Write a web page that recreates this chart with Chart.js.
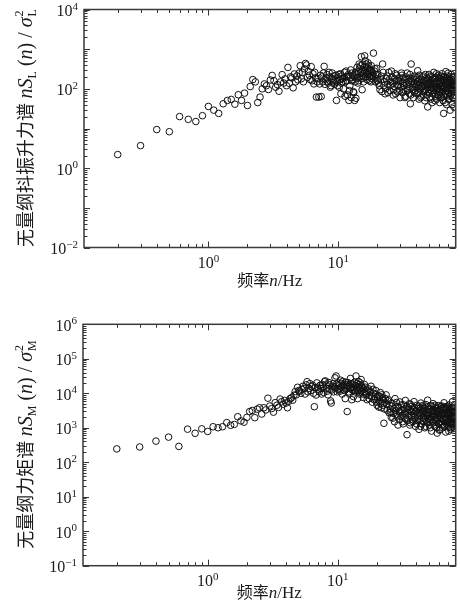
<!DOCTYPE html>
<html>
<head>
<meta charset="utf-8">
<script src="https://cdn.jsdelivr.net/npm/chart.js@4/dist/chart.umd.min.js"></script>
<style>
  html, body { margin: 0; padding: 0; background: #fff; }
  canvas { display: block; }
</style>
</head>
<body>
<canvas id="chartL" width="460" height="300"></canvas>
<canvas id="chartM" width="460" height="310"></canvas>
<script>
// [频率 n (Hz), 无量纲谱值]
const liftSpectrum = [
  [0.2, 2.2], [0.3, 3.7], [0.4, 9.4], [0.5, 8.3], [0.6, 20], [0.7, 17], [0.8, 15], [0.9, 21], [1.0, 36], [1.1, 29],
  [1.2, 24], [1.3, 42], [1.4, 51], [1.5, 54], [1.6, 41], [1.7, 71], [1.8, 51], [1.9, 78], [2.0, 38], [2.1, 114],
  [2.2, 171], [2.3, 150], [2.4, 45], [2.5, 62], [2.6, 100], [2.7, 133], [2.8, 120], [2.9, 96], [3.0, 167], [3.1, 218],
  [3.2, 161], [3.3, 110], [3.4, 128], [3.5, 87], [3.6, 150], [3.7, 228], [3.8, 140], [3.9, 178], [4.0, 120], [4.1, 347],
  [4.2, 138], [4.3, 200], [4.4, 188], [4.5, 106], [4.6, 237], [4.7, 150], [4.8, 210], [4.9, 168], [5.0, 250], [5.1, 383],
  [5.2, 180], [5.3, 260], [5.4, 150], [5.5, 320], [5.6, 437], [5.7, 400], [5.8, 195], [5.9, 276], [6.0, 220], [6.1, 170],
  [6.2, 362], [6.3, 160], [6.4, 240], [6.5, 133], [6.6, 260], [6.7, 190], [6.8, 62], [6.9, 150], [7.0, 180], [7.1, 62],
  [7.2, 133], [7.3, 220], [7.4, 64], [7.5, 200], [7.6, 150], [7.7, 250], [7.8, 368], [7.9, 130], [8.0, 170], [8.2, 230],
  [8.4, 140], [8.6, 200], [8.8, 120], [9.0, 250], [9.2, 170], [9.4, 130], [9.6, 220], [9.7, 51], [9.8, 150], [10.0, 190],
  [10.2, 110], [10.4, 240], [10.6, 140], [10.8, 180], [11.0, 100], [11.2, 260], [11.4, 150], [11.6, 200], [11.8, 70], [12.0, 230],
  [12.1, 51], [12.3, 120], [12.5, 300], [12.7, 160], [13.0, 220], [13.2, 80], [13.4, 51], [13.6, 260], [13.8, 180], [14.0, 350],
  [14.2, 140], [14.5, 420], [14.8, 250], [15.1, 645], [15.3, 95], [15.5, 300], [15.8, 200], [16.0, 680], [16.2, 510], [16.5, 350],
  [16.8, 230], [17.0, 450], [17.3, 160], [17.6, 300], [18.0, 383], [18.3, 220], [18.7, 795], [19.0, 280], [19.4, 150], [19.8, 330],
  [20.2, 180], [20.5, 140], [21, 95], [21.5, 210], [22, 422], [22.5, 120], [23, 75], [23.5, 180], [24, 130], [24.5, 260],
  [25, 90], [25.5, 150], [26, 200], [26.5, 70], [27, 115], [27.5, 240], [28, 160], [28.5, 85], [29, 130], [29.5, 190],
  [30, 60], [30.5, 110], [31, 220], [31.5, 140], [32, 95], [32.5, 170], [33, 65], [33.5, 125], [34, 250], [34.5, 100],
  [35, 150], [35.5, 75], [36, 42], [36.5, 422], [37, 180], [37.5, 110], [38, 60], [38.5, 140], [39, 210], [39.5, 90],
  [40, 130], [40.5, 75], [41, 286], [41.5, 120], [42, 55], [42.5, 170], [43, 100], [43.5, 140], [44, 65], [44.5, 200],
  [45, 115], [45.5, 85], [46, 160], [46.5, 50], [47, 230], [47.5, 95], [48, 130], [48.5, 70], [49, 35], [49.5, 180],
  [50, 110], [50.5, 150], [51, 60], [51.5, 210], [52, 90], [52.5, 125], [53, 45], [53.5, 175], [54, 105], [54.5, 260],
  [55, 80], [55.5, 140], [56, 65], [56.5, 190], [57, 115], [57.5, 55], [58, 160], [58.5, 95], [59, 220], [59.5, 70],
  [60, 135], [60.5, 45], [61, 180], [61.5, 100], [62, 150], [62.5, 60], [63, 240], [63.5, 85], [64, 125], [64.5, 50],
  [65, 24], [65.5, 170], [66, 110], [66.5, 200], [67, 75], [67.5, 271], [68, 130], [68.5, 40], [69, 160], [69.5, 90],
  [70, 210], [70.5, 55], [71, 140], [71.5, 100], [72, 185], [72.5, 65], [73, 29], [73.5, 150], [74, 115], [74.5, 230],
  [75, 80], [75.5, 40], [76, 170], [76.5, 95], [77, 130], [77.5, 60], [78, 35], [78.5, 200], [79, 110], [79.5, 150]
];

// 高频段密集点（与上表交错的频率）
const liftSpectrumDense = [
  [8.1, 190], [8.3, 150], [8.5, 260], [8.7, 110], [8.9, 180], [9.1, 140], [9.3, 210], [9.5, 160], [9.9, 120], [10.1, 230],
  [10.3, 170], [10.5, 75], [10.7, 210], [10.9, 150], [11.1, 190], [11.3, 65], [11.5, 280], [11.7, 160], [11.9, 210], [12.2, 90],
  [12.4, 190], [12.6, 60], [12.8, 250], [12.9, 170], [13.1, 85], [13.3, 200], [13.5, 150], [13.7, 58], [13.9, 230], [14.1, 190],
  [14.3, 270], [14.4, 160], [14.6, 320], [14.7, 200], [14.9, 380], [15.0, 260], [15.2, 180], [15.4, 420], [15.6, 240], [15.7, 150],
  [15.9, 350], [16.1, 280], [16.3, 200], [16.4, 420], [16.6, 260], [16.7, 170], [16.9, 330], [17.1, 240], [17.2, 380], [17.4, 200],
  [17.5, 270], [17.8, 210], [17.9, 150], [18.1, 290], [18.2, 180], [18.5, 250], [18.9, 200], [19.2, 320], [19.6, 230], [20.0, 160],
  [20.25, 230], [20.75, 120], [21.25, 170], [21.75, 85], [22.25, 260], [22.75, 150], [23.25, 100], [23.75, 210], [24.25, 80], [24.75, 170],
  [25.25, 120], [25.75, 280], [26.25, 140], [26.75, 95], [27.25, 180], [27.75, 75], [28.25, 220], [28.75, 120], [29.25, 160], [29.75, 90],
  [30.25, 150], [30.75, 250], [31.25, 80], [31.75, 190], [32.25, 120], [32.75, 60], [33.25, 200], [33.75, 140], [34.25, 90], [34.75, 180],
  [35.25, 115], [35.75, 230], [36.25, 70], [36.75, 150], [37.25, 95], [37.75, 200], [38.25, 130], [38.75, 80], [39.25, 170], [39.75, 115],
  [40.25, 190], [40.75, 100], [41.25, 150], [41.75, 80], [42.25, 220], [42.75, 125], [43.25, 60], [43.75, 175], [44.25, 110], [44.75, 145],
  [45.25, 70], [45.75, 210], [46.25, 120], [46.75, 90], [47.25, 150], [47.75, 60], [48.25, 190], [48.75, 105], [49.25, 140], [49.75, 80],
  [50.25, 230], [50.75, 95], [51.25, 130], [51.75, 55], [52.25, 165], [52.75, 110], [53.25, 200], [53.75, 75], [54.25, 140], [54.75, 100],
  [55.25, 180], [55.75, 50], [56.25, 125], [56.75, 90], [57.25, 240], [57.75, 110], [58.25, 70], [58.75, 150], [59.25, 100], [59.75, 190],
  [60.25, 85], [60.75, 130], [61.25, 60], [61.75, 210], [62.25, 115], [62.75, 170], [63.25, 75], [63.75, 140], [64.25, 95], [64.75, 200],
  [65.25, 65], [65.75, 120], [66.25, 160], [66.75, 45], [67.25, 135], [67.75, 90], [68.25, 180], [68.75, 110], [69.25, 70], [69.75, 145],
  [70.25, 100], [70.75, 250], [71.25, 80], [71.75, 125], [72.25, 55], [72.75, 170], [73.25, 105], [73.75, 70], [74.25, 150], [74.75, 95],
  [75.25, 200], [75.75, 120], [76.25, 60], [76.75, 160], [77.25, 85], [77.75, 190], [78.25, 110], [78.75, 70], [79.25, 140], [79.75, 95],
  [80.25, 120]
];

const momentSpectrum = [
  [0.2, 244], [0.3, 277], [0.4, 410], [0.5, 535], [0.6, 288], [0.7, 910], [0.8, 690], [0.9, 930], [1.0, 780], [1.1, 1070],
  [1.2, 1000], [1.3, 1070], [1.4, 1410], [1.5, 1180], [1.6, 1250], [1.7, 2090], [1.8, 1580], [1.9, 1450], [2.0, 2000], [2.1, 2950],
  [2.2, 3170], [2.3, 1960], [2.4, 3460], [2.5, 3800], [2.6, 2500], [2.7, 3800], [2.8, 3300], [2.9, 7200], [3.0, 4270], [3.1, 3600],
  [3.2, 2830], [3.3, 5350], [3.4, 4500], [3.5, 3900], [3.6, 6800], [3.7, 5700], [3.8, 4800], [3.9, 6200], [4.0, 5200], [4.1, 3800],
  [4.2, 5900], [4.3, 7000], [4.4, 7400], [4.5, 6300], [4.6, 8800], [4.7, 11200], [4.8, 9000], [4.9, 14900], [5.0, 12000], [5.2, 10000],
  [5.4, 16000], [5.5, 13800], [5.6, 9500], [5.8, 21700], [6.0, 14000], [6.2, 12000], [6.4, 17000], [6.6, 4080], [6.8, 8900], [7.0, 15000],
  [7.2, 11000], [7.4, 13800], [7.6, 18000], [7.8, 10500], [7.9, 21700], [8.0, 22900], [8.2, 14000], [8.4, 9000], [8.6, 17500], [8.9, 5200],
  [9.0, 12500], [9.2, 19000], [9.4, 15000], [9.7, 31700], [9.9, 11000], [10.1, 20000], [10.3, 14000], [10.5, 24000], [10.8, 9500], [11.0, 17000],
  [11.3, 12000], [11.5, 21000], [11.8, 2950], [12.0, 15500], [12.3, 10000], [12.6, 19000], [12.9, 13000], [13.2, 8000], [13.5, 17000], [13.8, 31700],
  [14.1, 12000], [14.4, 22000], [14.7, 9500], [15.1, 25000], [15.4, 14000], [15.7, 7500], [16.0, 18000], [16.4, 11000], [16.8, 6500], [17.2, 13500],
  [17.6, 8500], [18.0, 16000], [18.4, 5500], [18.8, 10000], [19.2, 7000], [19.6, 12000], [20.0, 4500], [20.4, 8500], [20.8, 6000], [21.2, 10500],
  [21.6, 3800], [22.0, 7500], [22.6, 1350], [23.0, 5500], [23.5, 9000], [24.0, 3200], [24.5, 6500], [25.0, 4500], [25.5, 2800], [26, 5200],
  [26.5, 1900], [27, 3600], [27.5, 7000], [28, 2400], [28.5, 4100], [29, 1200], [29.5, 3000], [30, 5600], [30.5, 2100], [31, 3300],
  [31.5, 1500], [32, 4600], [32.5, 2600], [33, 6200], [33.5, 1800], [34, 630], [34.5, 3800], [35, 2200], [35.5, 5000], [36, 1400],
  [36.5, 2900], [37, 4200], [37.5, 1700], [38, 3400], [38.5, 5700], [39, 2000], [39.5, 1100], [40, 3100], [40.5, 4500], [41, 1600],
  [41.5, 2700], [42, 900], [42.5, 3600], [43, 2300], [43.5, 5200], [44, 1300], [44.5, 2500], [45, 4000], [45.5, 1900], [46, 3000],
  [46.5, 1000], [47, 2200], [47.5, 4700], [48, 1500], [48.5, 2800], [49, 6300], [49.5, 1800], [50, 3400], [50.5, 1200], [51, 2400],
  [51.5, 4300], [52, 1700], [52.5, 800], [53, 3000], [53.5, 2100], [54, 5000], [54.5, 1400], [55, 2600], [55.5, 3800], [56, 1100],
  [56.5, 2000], [57, 3500], [57.5, 1600], [58, 700], [58.5, 2900], [59, 4400], [59.5, 1300], [60, 2300], [60.5, 3200], [61, 900],
  [61.5, 1900], [62, 4100], [62.5, 2500], [63, 1500], [63.5, 3700], [64, 1000], [64.5, 2700], [65, 1800], [65.5, 5300], [66, 1200],
  [66.5, 2200], [67, 3300], [67.5, 750], [68, 1700], [68.5, 4000], [69, 2600], [69.5, 1400], [70, 3000], [70.5, 1100], [71, 2400],
  [71.5, 4600], [72, 1600], [72.5, 2000], [73, 3400], [73.5, 900], [74, 2800], [74.5, 1500], [75, 3900], [75.5, 1200], [76, 5700],
  [76.5, 2100], [77, 1300], [77.5, 3100], [78, 1800], [78.5, 2500], [79, 1000], [79.5, 3600], [80, 2200]
];

const momentSpectrumDense = [
  [5.1, 11500], [5.3, 13000], [5.7, 17500], [5.9, 11000], [6.1, 19000], [6.3, 15500], [6.5, 10000], [6.7, 14500], [6.9, 20000], [7.1, 12500],
  [7.3, 17000], [7.5, 9500], [7.7, 14000], [8.1, 17500], [8.3, 11500], [8.5, 20500], [8.7, 13000], [8.8, 6000], [9.1, 16000], [9.3, 11000],
  [9.5, 28000], [9.6, 14000], [9.8, 18500], [10.0, 13000], [10.2, 17500], [10.4, 11500], [10.6, 19500], [10.7, 15000], [10.9, 22000], [11.1, 12500],
  [11.2, 16500], [11.4, 7000], [11.6, 18000], [11.7, 14000], [11.9, 20500], [12.1, 11000], [12.2, 17000], [12.4, 13500], [12.5, 27000], [12.7, 15000],
  [12.8, 6500], [13.0, 18500], [13.1, 12000], [13.3, 15000], [13.4, 21000], [13.6, 11000], [13.7, 16500], [13.9, 13500], [14.0, 19000], [14.2, 7000],
  [14.3, 15500], [14.5, 12500], [14.6, 18000], [14.8, 13500], [14.9, 20000], [15.0, 11000], [15.2, 16500], [15.3, 12000], [15.5, 14500], [15.6, 9500],
  [15.8, 13000], [15.9, 10500], [16.2, 15000], [16.6, 9000], [17.0, 12000], [17.4, 7000], [17.8, 11000], [18.2, 8000], [18.6, 13000], [19.0, 6500],
  [19.4, 9500], [19.8, 5500], [20.2, 7500], [20.6, 4000], [21.0, 8000], [21.4, 5000], [21.8, 9000], [22.2, 4500], [22.4, 6500], [22.8, 3500],
  [23.2, 7000], [23.8, 4800], [24.2, 6000], [24.8, 2700],
  [25.25, 3500], [25.75, 2000], [26.25, 4300], [26.75, 2600], [27.25, 1500], [27.75, 3200], [28.25, 5400], [28.75, 2200], [29.25, 3900], [29.75, 1700],
  [30.25, 2800], [30.75, 4600], [31.25, 2300], [31.75, 1300], [32.25, 3500], [32.75, 1900], [33.25, 2900], [33.75, 4200], [34.25, 1600], [34.75, 2600],
  [35.25, 3300], [35.75, 1200], [36.25, 4700], [36.75, 2100], [37.25, 3000], [37.75, 1500], [38.25, 2500], [38.75, 3900], [39.25, 1800], [39.75, 2900],
  [40.25, 1300], [40.75, 3600], [41.25, 2200], [41.75, 4100], [42.25, 1700], [42.75, 2800], [43.25, 1100], [43.75, 3300], [44.25, 2000], [44.75, 4400],
  [45.25, 1500], [45.75, 2600], [46.25, 3700], [46.75, 1800], [47.25, 1100], [47.75, 3100], [48.25, 2300], [48.75, 4000], [49.25, 1400], [49.75, 2700],
  [50.25, 1900], [50.75, 3500], [51.25, 1000], [51.75, 2900], [52.25, 2100], [52.75, 4200], [53.25, 1500], [53.75, 2500], [54.25, 3300], [54.75, 1200],
  [55.25, 2200], [55.75, 4500], [56.25, 1700], [56.75, 2800], [57.25, 1000], [57.75, 3100], [58.25, 1900], [58.75, 3800], [59.25, 1400], [59.75, 2600],
  [60.25, 850], [60.75, 2000], [61.25, 3400], [61.75, 1500], [62.25, 2300], [62.75, 4300], [63.25, 1200], [63.75, 2700], [64.25, 1800], [64.75, 3300],
  [65.25, 1100], [65.75, 2500], [66.25, 4000], [66.75, 1600], [67.25, 2100], [67.75, 3600], [68.25, 1300], [68.75, 2900], [69.25, 1900], [69.75, 4200],
  [70.25, 1500], [70.75, 2300], [71.25, 800], [71.75, 3100], [72.25, 2000], [72.75, 3700], [73.25, 1400], [73.75, 2500], [74.25, 1000], [74.75, 3300],
  [75.25, 1800], [75.75, 2700], [76.25, 1300], [76.75, 3900], [77.25, 2200], [77.75, 950], [78.25, 3000], [78.75, 1600], [79.25, 4500], [79.75, 2000],
  [80.25, 2800]
];

// 坐标轴范围与刻度标签（10 的幂次）
const freqRange = [0.11, 80.5];
const freqLabelExps = [0, 1];
const liftRange = [1e-2, 1e4];
const liftLabelExps = [-2, 0, 2, 4];
const momentRange = [1e-1, 1e6];
const momentLabelExps = [-1, 0, 1, 2, 3, 4, 5, 6];

const SERIF = '"Liberation Serif", "Times New Roman", serif';
const CJK = '"Noto Sans CJK SC", sans-serif';
const INK = '#1a1a1a';

function logTickValues(min, max) {
  const out = [];
  for (let e = Math.floor(Math.log10(min)); e <= Math.ceil(Math.log10(max)); e++) {
    for (let k = 1; k <= 9; k++) {
      const v = k * Math.pow(10, e);
      if (v >= min * 0.9999 && v <= max * 1.0001) out.push({ v, major: k === 1 });
    }
  }
  return out;
}

function drawPow(ctx, e, x, yMid, align) {
  const base = '10';
  const ex = e < 0 ? '\u2212' + (-e) : String(e);
  ctx.font = '16px ' + SERIF;
  const wb = ctx.measureText(base).width;
  ctx.font = '11px ' + SERIF;
  const we = ctx.measureText(ex).width;
  const x0 = align === 'right' ? x - wb - we : x - (wb + we) / 2;
  ctx.textAlign = 'left';
  ctx.textBaseline = 'alphabetic';
  ctx.font = '16px ' + SERIF;
  ctx.fillText(base, x0, yMid + 5.5);
  ctx.font = '11px ' + SERIF;
  ctx.fillText(ex, x0 + wb, yMid - 1);
}

function runWidth(ctx, r) {
  ctx.font = r.f;
  if (r.sup !== undefined) return Math.max(ctx.measureText(r.sup).width, ctx.measureText(r.sub).width);
  return ctx.measureText(r.t).width;
}

function drawRuns(ctx, runs, cx, y) {
  const total = runs.reduce((s, r) => s + runWidth(ctx, r), 0);
  let x = cx - total / 2;
  ctx.textAlign = 'left';
  ctx.textBaseline = 'alphabetic';
  for (const r of runs) {
    const w = runWidth(ctx, r);
    ctx.font = r.f;
    if (r.sup !== undefined) {
      ctx.fillText(r.sup, x + 1, y - 9);
      ctx.fillText(r.sub, x + 1, y + 4);
    } else {
      ctx.fillText(r.t, x, y + (r.dy || 0));
    }
    x += w;
  }
}

function yTitleRuns(cn, sub) {
  return [
    { t: cn, f: '18px ' + CJK },
    { t: ' ', f: '18px ' + SERIF },
    { t: 'nS', f: 'italic 20px ' + SERIF },
    { t: sub, f: '12px ' + SERIF, dy: 4 },
    { t: ' (', f: '20px ' + SERIF },
    { t: 'n', f: 'italic 20px ' + SERIF },
    { t: ') / ', f: '20px ' + SERIF },
    { t: '\u03c3', f: 'italic 20px ' + SERIF },
    { sup: '2', sub: sub, f: '12px ' + SERIF }
  ];
}

const xTitleRuns = [
  { t: '频率', f: '16px ' + CJK },
  { t: 'n', f: 'italic 17px ' + SERIF },
  { t: '/Hz', f: '17px ' + SERIF }
];

// 边框、向内刻度、幂次标签与坐标轴标题
function axesPlugin(cfg) {
  return {
    id: 'logAxes',
    afterDraw(chart) {
      const { ctx, chartArea: a, scales: { x, y } } = chart;
      ctx.save();
      ctx.strokeStyle = '#333';
      ctx.fillStyle = INK;
      ctx.lineWidth = 1;
      ctx.beginPath();
      for (const t of logTickValues(x.min, x.max)) {
        const px = Math.round(x.getPixelForValue(t.v)) + 0.5;
        const len = t.major ? 6 : 3.5;
        ctx.moveTo(px, a.bottom); ctx.lineTo(px, a.bottom - len);
        ctx.moveTo(px, a.top); ctx.lineTo(px, a.top + len);
      }
      for (const t of logTickValues(y.min, y.max)) {
        const py = Math.round(y.getPixelForValue(t.v)) + 0.5;
        const len = t.major ? 6 : 3.5;
        ctx.moveTo(a.left, py); ctx.lineTo(a.left + len, py);
        ctx.moveTo(a.right, py); ctx.lineTo(a.right - len, py);
      }
      ctx.stroke();
      ctx.lineWidth = 1.5;
      ctx.strokeStyle = '#3a3a3a';
      ctx.strokeRect(a.left, a.top, a.right - a.left, a.bottom - a.top);

      for (const e of cfg.yExps) drawPow(ctx, e, a.left - 6, y.getPixelForValue(Math.pow(10, e)) + 1, 'right');
      for (const e of freqLabelExps) drawPow(ctx, e, x.getPixelForValue(Math.pow(10, e)), a.bottom + cfg.xLabelGap, 'center');

      drawRuns(ctx, xTitleRuns, (a.left + a.right) / 2, a.bottom + cfg.xTitleGap);

      ctx.translate(cfg.yTitleX, (a.top + a.bottom) / 2);
      ctx.rotate(-Math.PI / 2);
      drawRuns(ctx, cfg.yTitle, 0, 0);
      ctx.restore();
    }
  };
}

function makeChart(id, points, yRange, cfg) {
  return new Chart(document.getElementById(id), {
    type: 'scatter',
    data: {
      datasets: [{
        data: points.map(([n, v]) => ({ x: n, y: v })),
        pointRadius: 3.3,
        pointHoverRadius: 3.3,
        pointBorderWidth: 1,
        pointBorderColor: '#111',
        pointBackgroundColor: 'rgba(255,255,255,0)',
        clip: 0
      }]
    },
    options: {
      responsive: false,
      animation: false,
      events: [],
      layout: { padding: { top: cfg.top, right: 1.3, left: 0, bottom: 0 } },
      plugins: { legend: { display: false }, tooltip: { enabled: false } },
      scales: {
        x: {
          type: 'logarithmic', min: freqRange[0], max: freqRange[1],
          grid: { display: false }, border: { display: false }, ticks: { display: false },
          afterFit: s => { s.height = cfg.xAxisHeight; }
        },
        y: {
          type: 'logarithmic', min: yRange[0], max: yRange[1],
          grid: { display: false }, border: { display: false }, ticks: { display: false },
          afterFit: s => { s.width = cfg.yAxisWidth; }
        }
      }
    },
    plugins: [axesPlugin(cfg)]
  });
}

makeChart('chartL', liftSpectrum.concat(liftSpectrumDense), liftRange, {
  top: 9.5, xAxisHeight: 52.5, yAxisWidth: 84,
  yExps: liftLabelExps, xLabelGap: 15, xTitleGap: 38, yTitleX: 32,
  yTitle: yTitleRuns('无量纲抖振升力谱', 'L')
});

makeChart('chartM', momentSpectrum.concat(momentSpectrumDense), momentRange, {
  top: 24.3, xAxisHeight: 44.3, yAxisWidth: 83,
  yExps: momentLabelExps, xLabelGap: 15, xTitleGap: 32, yTitleX: 32,
  yTitle: yTitleRuns('无量纲力矩谱', 'M')
});
</script>
</body>
</html>
